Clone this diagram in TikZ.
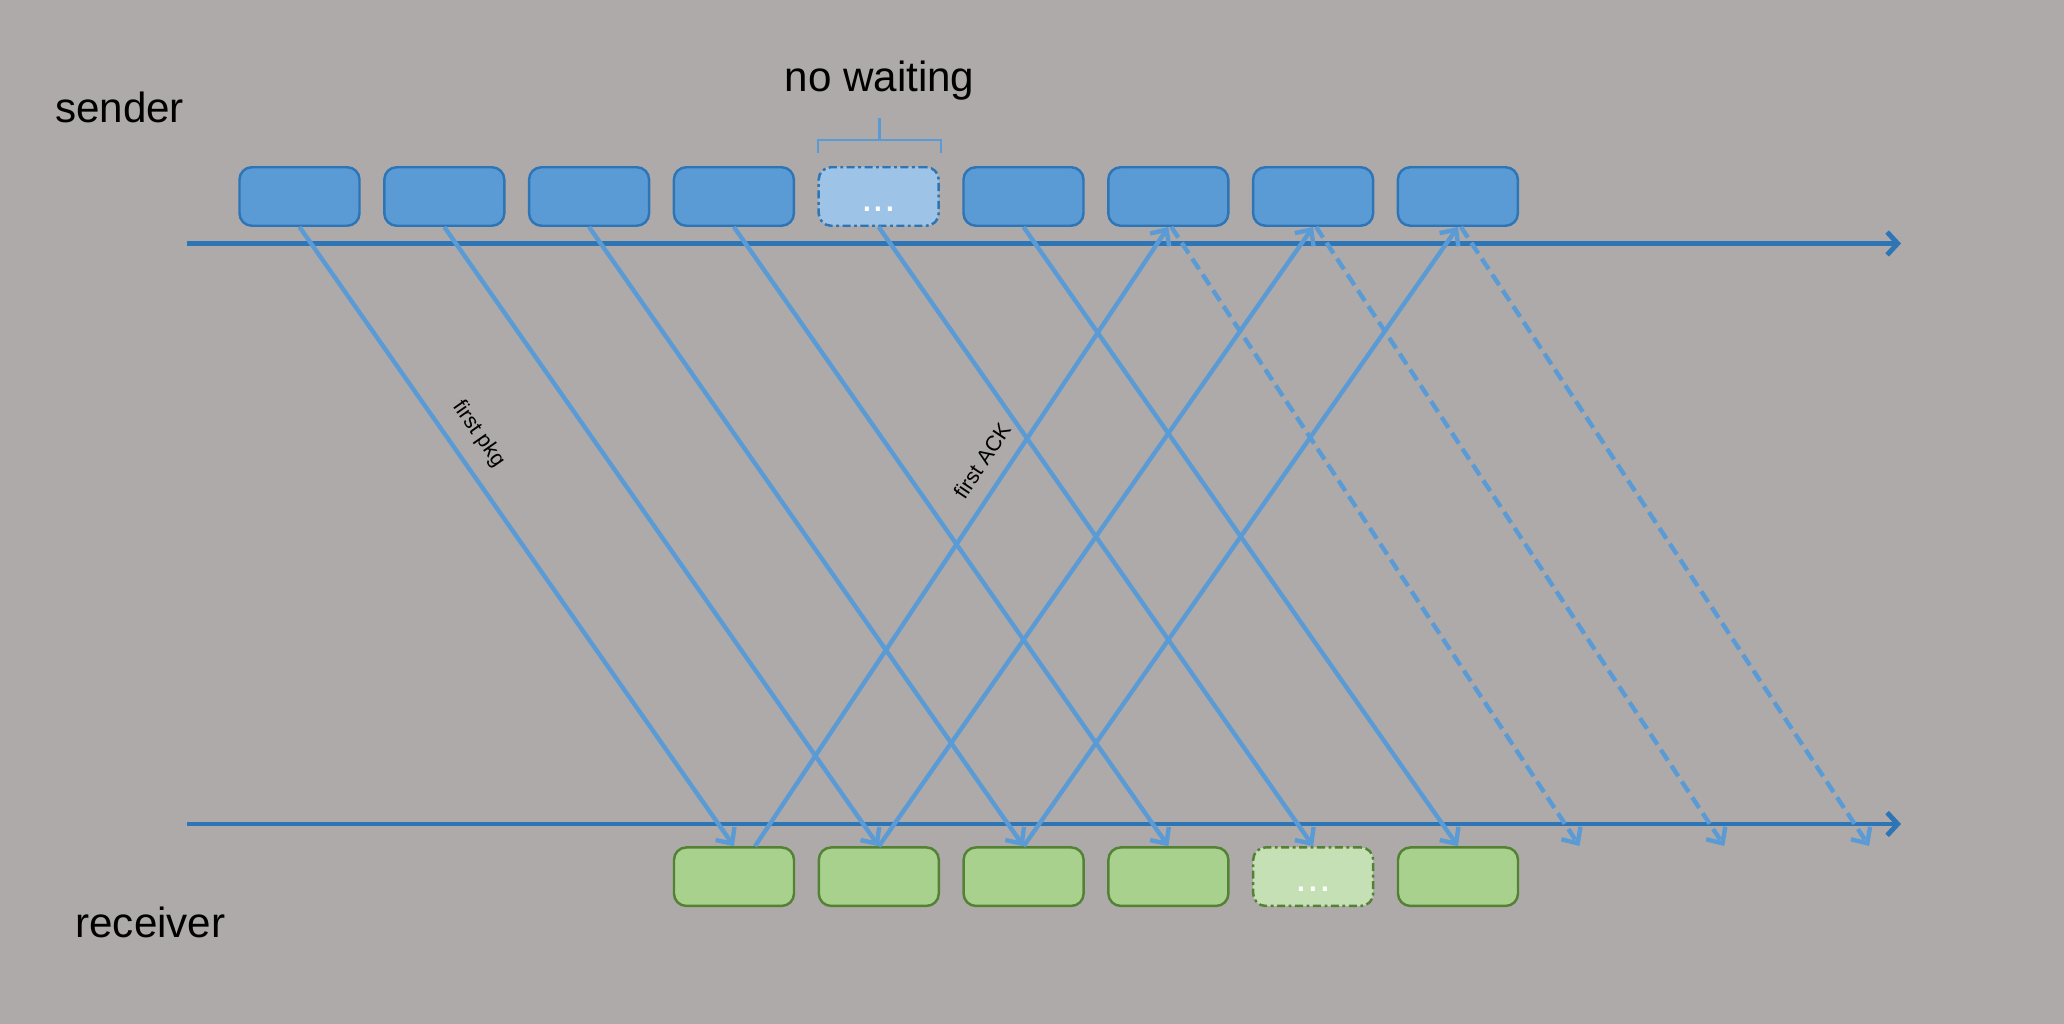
\documentclass[tikz,border=0pt]{standalone}
\usepackage{fontspec}
\setmainfont{Liberation Sans}
\usetikzlibrary{arrows.meta,calc}
\definecolor{bggray}{HTML}{AEAAA9}
\definecolor{pkgblue}{HTML}{5B9BD5}
\definecolor{pkgline}{HTML}{2E75B6}
\definecolor{pkglight}{HTML}{9DC3E6}
\definecolor{ackgreen}{HTML}{A9D18E}
\definecolor{ackline}{HTML}{548235}
\definecolor{acklight}{HTML}{C5E0B4}

\begin{document}
\begin{tikzpicture}
[x=0.1mm,y=0.1mm,
box/.style={line width=0.7pt,rounded corners=3.5pt,minimum width=1.2cm,minimum height=0.585cm,inner sep=0pt},
pkg/.style={box,draw=pkgline,fill=pkgblue},
pkgdots/.style={box,draw=pkgline,fill=pkglight,dotdash,dotstext},
ack/.style={box,draw=ackline,fill=ackgreen},
ackdots/.style={box,draw=ackline,fill=acklight,dotdash,dotstext},
dotdash/.style={dash pattern=on 2.3pt off 1pt on 0.8pt off 1pt},
dotstext/.style={text=white,font=\fontsize{12}{14}\selectfont,text height=8.5pt,text depth=0pt},
big/.style={font=\fontsize{12}{14}\selectfont},
small/.style={font=\fontsize{6.1}{7}\selectfont},
axis/.style={draw=pkgline,line width=1.4pt,-{Straight Barb[length=3pt,width=6.5pt]}},
data/.style={draw=pkgblue,line width=1.25pt,-{Straight Barb[length=3.5pt,width=6.5pt]}},
lost/.style={data,dash pattern=on 3.6pt off 1.8pt}]

\fill[bggray] (0,0) rectangle (2064,1024);

\node[big] (sender) at (119.5,917) {sender};
\node[big] (receiver) at (150.5,102) {receiver};
\node[big] (nowait) at (879.5,943) {no waiting};

\draw[axis] (187,780.5) -- (1901,780.5);
\draw[axis] (187,200) -- (1901,200);

% sender packets
\foreach \i in {1,2,3,4,6,7,8,9}
\node[pkg] (s\i) at ({154.7+144.8*\i},827.5) {};
\node[pkgdots] (s5) at (878.7,827.5) {...};

% receiver packets
\foreach \i in {1,2,3,4,6}
\node[ack] (r\i) at ({589.2+144.8*\i},147.3) {};
\node[ackdots] (r5) at (1313.2,147.3) {...};

\draw[draw=pkgblue,line width=0.6pt] (818,871) -- (818,884) -- (941,884) -- (941,871)
(879.5,884) -- (879.5,906);

\draw[data] (s1.south) -- (r1.north) node[small,pos=0.36,sloped,above=1pt] {first pkg};
\foreach \i in {2,...,6}
\draw[data] (s\i.south) -- (r\i.north);

\draw[data] ($(r1.north)+(21,0)$) -- (s7.south) node[small,pos=0.6,sloped,above=1pt] {first ACK};
\draw[data] (r2.north) -- (s8.south);
\draw[data] (r3.north) -- (s9.south);

\coordinate (l7) at (1579.5,178);
\coordinate (l8) at (1724.3,178);
\coordinate (l9) at (1869.1,178);
\foreach \i in {7,8,9}
\draw[lost] ($(s\i.south)+(3,0)$) -- (l\i);
\end{tikzpicture}
\end{document}
